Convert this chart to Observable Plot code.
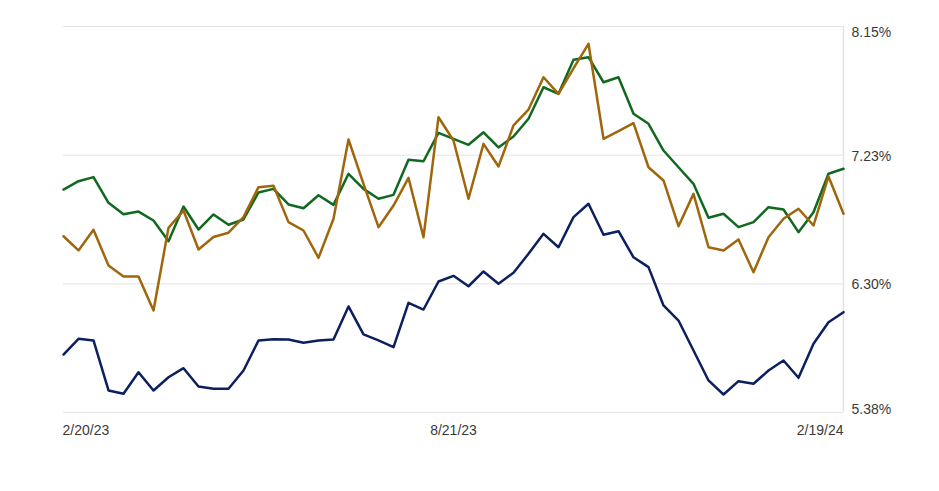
<!DOCTYPE html>
<html>
<head>
<meta charset="utf-8">
<script src="https://cdn.jsdelivr.net/npm/d3@7"></script>
<script src="https://cdn.jsdelivr.net/npm/@observablehq/plot@0.6"></script>
<style>
  html, body { margin: 0; padding: 0; background: #fff; }
  #chart svg { display: block; }
</style>
</head>
<body>
<div id="chart"></div>
<script>
// Weekly (Monday) observations, 2/20/23 to 2/19/24
const startDate = "2023-02-20";
const endDate = "2024-02-19";

const greenSeries = [6.980, 7.040, 7.069, 6.885, 6.803, 6.822, 6.758, 6.609, 6.858, 6.693,
  6.801, 6.727, 6.765, 6.959, 6.985, 6.873, 6.846, 6.939, 6.870, 7.093,
  6.985, 6.914, 6.942, 7.193, 7.183, 7.387, 7.344, 7.301, 7.391, 7.282,
  7.361, 7.488, 7.714, 7.667, 7.911, 7.930, 7.750, 7.786, 7.524, 7.452,
  7.260, 7.140, 7.021, 6.777, 6.806, 6.710, 6.746, 6.853, 6.837, 6.674,
  6.817, 7.093, 7.129];

const orangeSeries = [6.645, 6.543, 6.691, 6.435, 6.356, 6.356, 6.112, 6.705, 6.830, 6.550,
  6.639, 6.670, 6.782, 6.997, 7.007, 6.746, 6.686, 6.490, 6.770, 7.339,
  7.021, 6.710, 6.865, 7.064, 6.638, 7.499, 7.332, 6.914, 7.308, 7.145,
  7.440, 7.554, 7.786, 7.667, 7.849, 8.026, 7.344, 7.399, 7.456, 7.140,
  7.045, 6.717, 6.949, 6.566, 6.543, 6.622, 6.387, 6.638, 6.770, 6.842,
  6.722, 7.074, 6.806];

const navySeries = [5.796, 5.909, 5.897, 5.538, 5.514, 5.669, 5.538, 5.633, 5.698, 5.567,
  5.550, 5.550, 5.681, 5.897, 5.906, 5.904, 5.880, 5.897, 5.904, 6.141,
  5.940, 5.897, 5.849, 6.167, 6.119, 6.320, 6.361, 6.286, 6.392, 6.304,
  6.383, 6.519, 6.662, 6.566, 6.782, 6.878, 6.655, 6.681, 6.494, 6.423,
  6.148, 6.040, 5.825, 5.610, 5.509, 5.605, 5.586, 5.681, 5.753, 5.629,
  5.873, 6.028, 6.100];

const yTicks = [5.38, 6.3033, 7.2267, 8.15];
const yTickLabels = ["5.38%", "6.30%", "7.23%", "8.15%"];

const xTickDates = ["2023-02-20", "2023-08-21", "2024-02-19"];
const xTickLabels = ["2/20/23", "8/21/23", "2/19/24"];

const seriesNames = ["Green", "Orange", "Navy"];
const seriesColors = ["#11691f", "#a0660c", "#0c1f5e"];

// build tables
const start = new Date(startDate + "T00:00:00Z");
const end = new Date(endDate + "T00:00:00Z");
const dates = d3.utcMonday.range(start, d3.utcDay.offset(end, 1));
const toRows = (vals, name) => vals.map((v, i) => ({date: dates[i], value: v, series: name}));
const rowsGreen = toRows(greenSeries, seriesNames[0]);
const rowsOrange = toRows(orangeSeries, seriesNames[1]);
const rowsNavy = toRows(navySeries, seriesNames[2]);

const yt = yTicks.map((v, i) => ({v, label: yTickLabels[i], i}));
const xt = xTickDates.map((d, i) => ({d: new Date(d + "T00:00:00Z"), label: xTickLabels[i], i}));

const font = "Arial, 'Liberation Sans', sans-serif";
const labelColor = "#3a3a3a";

const chart = Plot.plot({
  width: 939,
  height: 491,
  marginLeft: 63,
  marginRight: 96,
  marginTop: 26,
  marginBottom: 79,
  style: {fontFamily: font, fontSize: "14px", background: "#fff"},
  x: {type: "utc", domain: [start, end], axis: null},
  y: {domain: [5.38, 8.15], axis: null},
  marks: [
    Plot.ruleY(yt, {y: "v", stroke: "#e3e3e3", strokeWidth: 1}),
    Plot.ruleX([end], {stroke: "#e3e3e3", strokeWidth: 1.5}),
    Plot.lineY(rowsNavy, {x: "date", y: "value", stroke: seriesColors[2], strokeWidth: 2.5}),
    Plot.lineY(rowsGreen, {x: "date", y: "value", stroke: seriesColors[0], strokeWidth: 2.5}),
    Plot.lineY(rowsOrange, {x: "date", y: "value", stroke: seriesColors[1], strokeWidth: 2.5}),
    // y labels on right
    Plot.text(yt.filter(d => d.i === yt.length - 1), {y: "v", text: "label", frameAnchor: "right", textAnchor: "start", lineAnchor: "top", dx: 8, dy: 1, fill: labelColor, fontSize: 14}),
    Plot.text(yt.filter(d => d.i > 0 && d.i < yt.length - 1), {y: "v", text: "label", frameAnchor: "right", textAnchor: "start", lineAnchor: "middle", dx: 8, dy: 1, fill: labelColor, fontSize: 14}),
    Plot.text(yt.filter(d => d.i === 0), {y: "v", text: "label", frameAnchor: "right", textAnchor: "start", lineAnchor: "bottom", dx: 8, dy: 1, fill: labelColor, fontSize: 14}),
    // x labels
    Plot.text(xt.filter(d => d.i === 0), {x: "d", text: "label", frameAnchor: "bottom", textAnchor: "start", lineAnchor: "middle", dy: 18, dx: -1, fill: labelColor, fontSize: 14}),
    Plot.text(xt.filter(d => d.i === 1), {x: "d", text: "label", frameAnchor: "bottom", textAnchor: "middle", lineAnchor: "middle", dy: 18, fill: labelColor, fontSize: 14}),
    Plot.text(xt.filter(d => d.i === 2), {x: "d", text: "label", frameAnchor: "bottom", textAnchor: "end", lineAnchor: "middle", dy: 18, fill: labelColor, fontSize: 14})
  ]
});
document.getElementById("chart").append(chart);
</script>
</body>
</html>
